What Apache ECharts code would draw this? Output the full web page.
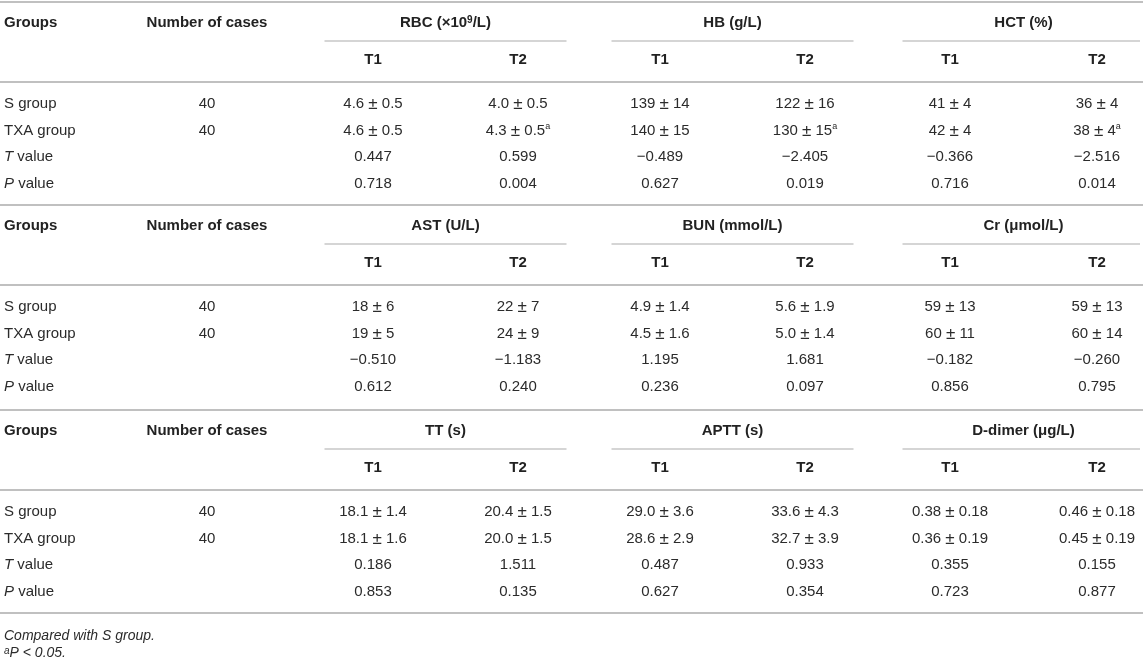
<!DOCTYPE html>
<html>
<head>
<meta charset="utf-8">
<title>Blood indices table</title>
<style>
  html, body { margin: 0; padding: 0; background: #fff; }
  #main { width: 1143px; height: 658px; }
</style>
<script src="https://cdn.jsdelivr.net/npm/echarts@6/dist/echarts.min.js"></script>
</head>
<body>
<div id="main"></div>
<script>
// ---- table content ----
const rowLabels = ['S group', 'TXA group', '{i|T} value', '{i|P} value'];
const caseCounts = ['40', '40'];
const timePoints = ['T1', 'T2'];
const sectionIndicators = [
  ['RBC (×10{supb|9}/L)', 'HB (g/L)', 'HCT (%)'],
  ['AST (U/L)', 'BUN (mmol/L)', 'Cr (μmol/L)'],
  ['TT (s)', 'APTT (s)', 'D-dimer (μg/L)']
];

// each list: S group, TXA group, T value, P value  ('^a' = P < 0.05 vs S group)
const rbcT1 = ['4.6 ± 0.5', '4.6 ± 0.5', '0.447', '0.718'];
const rbcT2 = ['4.0 ± 0.5', '4.3 ± 0.5^a', '0.599', '0.004'];
const hbT1 = ['139 ± 14', '140 ± 15', '−0.489', '0.627'];
const hbT2 = ['122 ± 16', '130 ± 15^a', '−2.405', '0.019'];
const hctT1 = ['41 ± 4', '42 ± 4', '−0.366', '0.716'];
const hctT2 = ['36 ± 4', '38 ± 4^a', '−2.516', '0.014'];
const astT1 = ['18 ± 6', '19 ± 5', '−0.510', '0.612'];
const astT2 = ['22 ± 7', '24 ± 9', '−1.183', '0.240'];
const bunT1 = ['4.9 ± 1.4', '4.5 ± 1.6', '1.195', '0.236'];
const bunT2 = ['5.6 ± 1.9', '5.0 ± 1.4', '1.681', '0.097'];
const crT1 = ['59 ± 13', '60 ± 11', '−0.182', '0.856'];
const crT2 = ['59 ± 13', '60 ± 14', '−0.260', '0.795'];
const ttT1 = ['18.1 ± 1.4', '18.1 ± 1.6', '0.186', '0.853'];
const ttT2 = ['20.4 ± 1.5', '20.0 ± 1.5', '1.511', '0.135'];
const apttT1 = ['29.0 ± 3.6', '28.6 ± 2.9', '0.487', '0.627'];
const apttT2 = ['33.6 ± 4.3', '32.7 ± 3.9', '0.933', '0.354'];
const ddT1 = ['0.38 ± 0.18', '0.36 ± 0.19', '0.355', '0.723'];
const ddT2 = ['0.46 ± 0.18', '0.45 ± 0.19', '0.155', '0.877'];

const sectionColumns = [
  [rbcT1, rbcT2, hbT1, hbT2, hctT1, hctT2],
  [astT1, astT2, bunT1, bunT2, crT1, crT2],
  [ttT1, ttT2, apttT1, apttT2, ddT1, ddT2]
];
const footnotes = ['Compared with {ni|S} group.', '{supi|a}P < 0.05.'];

// ---- layout (axis units = pixels of the 1143 x 658 page) ----
const W = 1143, H = 658;
const sectionTop = [2, 205, 410];
const tableBottom = 613;
const headY = 21, subRuleY = 39, timeY = 58, headRuleY = 80;
const rowY = [102, 129, 155, 182];
const labelX = 4, casesX = 207;
const colX = [373, 518, 660, 805, 950, 1097];
const subRuleHalf = 121;
const noteY = [636, 653];

const FONT = "'Liberation Sans', Arial, Helvetica, sans-serif";
const INK = '#222';
const BODY_INK = '#2b2b2b';
const RULE = '#ababab';

const cells = [];
const rules = [];

sectionTop.forEach(function (top, s) {
  rules.push([0, top, W, 1.5]);
  cells.push({ x: labelX, y: top + headY, text: 'Groups', kind: 'head', align: 'left' });
  cells.push({ x: casesX, y: top + headY, text: 'Number of cases', kind: 'head', align: 'center' });
  for (let g = 0; g < 3; g++) {
    const cx = (colX[g * 2] + colX[g * 2 + 1]) / 2;
    cells.push({ x: cx, y: top + headY, text: sectionIndicators[s][g], kind: 'head', align: 'center' });
    const right = g === 2 ? W - 3 : cx + subRuleHalf;
    rules.push([cx - subRuleHalf, top + subRuleY, right, 1.2]);
  }
  colX.forEach(function (x, c) {
    cells.push({ x: x, y: top + timeY, text: timePoints[c % 2], kind: 'head', align: 'center' });
  });
  rules.push([0, top + headRuleY, W, 1.5]);
  rowLabels.forEach(function (label, r) {
    cells.push({ x: labelX, y: top + rowY[r], text: label, kind: 'body', align: 'left' });
    if (r < caseCounts.length) {
      cells.push({ x: casesX, y: top + rowY[r], text: caseCounts[r], kind: 'body', align: 'center' });
    }
    sectionColumns[s].forEach(function (col, c) {
      const t = col[r].replace(/\^a$/, '{sup|a}').replace(' ± ', ' {pm|±} ');
      cells.push({ x: colX[c], y: top + rowY[r], text: t, kind: 'body', align: 'center' });
    });
  });
});
rules.push([0, tableBottom, W, 1.5]);
footnotes.forEach(function (t, i) {
  cells.push({ x: labelX, y: noteY[i], text: t, kind: 'note', align: 'left' });
});

function fontStyle(kind) {
  if (kind === 'head') return { fontSize: 15, fontWeight: 'bold', fontStyle: 'normal', fill: INK };
  if (kind === 'note') return { fontSize: 14, fontWeight: 'normal', fontStyle: 'italic', fill: BODY_INK };
  return { fontSize: 15, fontWeight: 'normal', fontStyle: 'normal', fill: BODY_INK };
}

const rich = {
  i: { fontSize: 15, fontFamily: FONT, fontStyle: 'italic', fill: BODY_INK },
  ni: { fontSize: 14, fontFamily: FONT, fontStyle: 'italic', fill: BODY_INK },
  pm: { fontSize: 17, fontFamily: FONT, fill: BODY_INK },
  sup: { fontSize: 9, fontFamily: FONT, fill: BODY_INK, verticalAlign: 'top' },
  supb: { fontSize: 10, fontFamily: FONT, fontWeight: 'bold', fill: INK, verticalAlign: 'top' },
  supi: { fontSize: 10, fontFamily: FONT, fontStyle: 'italic', fill: BODY_INK, verticalAlign: 'top' }
};

const chart = echarts.init(document.getElementById('main'), null, { renderer: 'canvas' });

chart.setOption({
  animation: false,
  grid: { left: 0, right: 0, top: 0, bottom: 0 },
  xAxis: { type: 'value', min: 0, max: W, show: false },
  yAxis: { type: 'value', min: 0, max: H, inverse: true, show: false },
  series: [
    {
      name: 'rules',
      type: 'custom',
      clip: false,
      silent: true,
      data: rules,
      renderItem: function (params, api) {
        const p1 = api.coord([api.value(0), api.value(1)]);
        const p2 = api.coord([api.value(2), api.value(1)]);
        return {
          type: 'line',
          shape: { x1: p1[0], y1: p1[1], x2: p2[0], y2: p2[1] },
          style: { stroke: RULE, lineWidth: api.value(3) }
        };
      }
    },
    {
      name: 'cells',
      type: 'custom',
      clip: false,
      silent: true,
      data: cells.map(function (c) { return [c.x, c.y]; }),
      renderItem: function (params, api) {
        const c = cells[params.dataIndex];
        const p = api.coord([api.value(0), api.value(1)]);
        const f = fontStyle(c.kind);
        return {
          type: 'text',
          x: p[0],
          y: p[1],
          style: {
            text: c.text,
            fill: f.fill,
            fontFamily: FONT,
            fontSize: f.fontSize,
            fontWeight: f.fontWeight,
            fontStyle: f.fontStyle,
            align: c.align,
            verticalAlign: 'middle',
            rich: rich
          }
        };
      }
    }
  ]
});
</script>
</body>
</html>
